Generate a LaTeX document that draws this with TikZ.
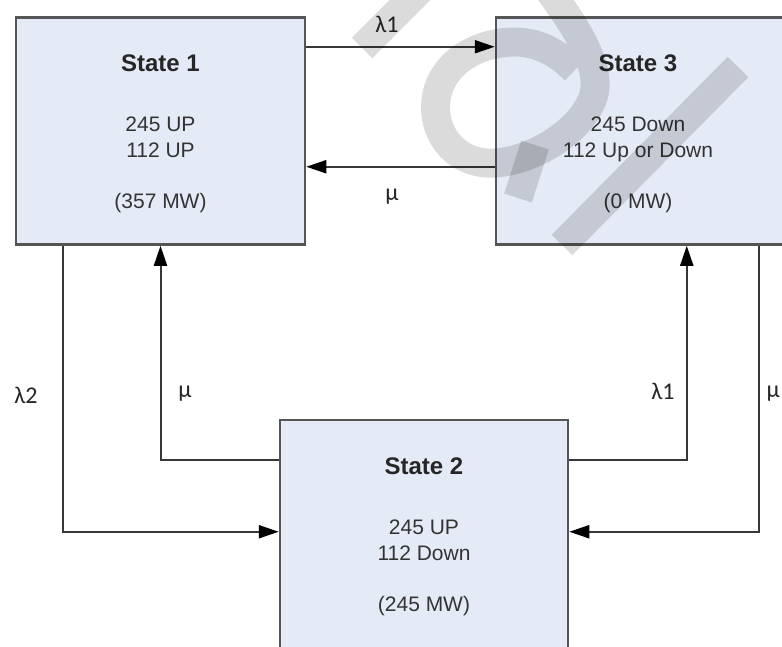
\documentclass[tikz,border=0pt]{standalone}
\usepackage{fontspec}
\setmainfont{Liberation Sans}
\newfontfamily\grk{Carlito}
\usetikzlibrary{arrows.meta,calc}
\definecolor{boxfill}{RGB}{229,235,246}
\definecolor{boxline}{RGB}{85,85,85}
\definecolor{conline}{RGB}{55,55,55}
\begin{document}
\begin{tikzpicture}[x=1pt,y=-1pt,
  statebox/.style={draw=boxline,line width=2.5pt,fill=boxfill,rectangle,inner sep=0pt},
  title/.style={anchor=base,font=\fontsize{24}{28}\selectfont\bfseries,text=black!85},
  body/.style={anchor=base,font=\fontsize{21}{26}\selectfont,text=black!80},
  rate/.style={anchor=base,font=\grk\fontsize{24}{28}\selectfont,text=black!85},
  conn/.style={draw=conline,line width=2pt,-{Triangle[length=20pt,width=13pt,color=black]}},
  wm/.style={draw=black,draw opacity=0.14,line width=29pt}
]
\path[use as bounding box] (0,0) rectangle (782,646);
\clip (0,0) rectangle (782,646);

% states
\node[statebox,minimum width=289pt,minimum height=227pt] (s1) at (160.5,131) {};
\node[statebox,minimum width=290pt,minimum height=227pt] (s3) at (641,131) {};
\node[statebox,minimum width=288pt,minimum height=230pt] (s2) at (424,535) {};

% state texts
\node[title] (s1a) at (160.5,71) {State 1};
\node[body]  (s1b) at (160.5,131) {245 UP};
\node[body]  (s1c) at (160.5,157) {112 UP};
\node[body]  (s1d) at (160.5,208) {(357 MW)};

\node[title] (s3a) at (638,71) {State 3};
\node[body]  (s3b) at (638,131) {245 Down};
\node[body]  (s3c) at (638,157) {112 Up or Down};
\node[body]  (s3d) at (638,208) {(0 MW)};

\node[title] (s2a) at (424,474) {State 2};
\node[body]  (s2b) at (424,534) {245 UP};
\node[body]  (s2c) at (424,560) {112 Down};
\node[body]  (s2d) at (424,611) {(245 MW)};

% connectors
\draw[conn] ($(s1.north east)+(0,30.5)$) -- ($(s3.north west)+(0,30.5)$);
\draw[conn] ($(s3.north west)+(0,150.5)$) -- ($(s1.north east)+(0,150.5)$);
\draw[conn] ($(s1.south west)+(48,0)$) |- ($(s2.north west)+(0,113)$);
\draw[conn] ($(s2.north west)+(0,41)$) -| (s1.south);
\draw[conn] ($(s2.north east)+(0,41)$) -| ($(s3.south west)+(192,0)$);
\draw[conn] ($(s3.south west)+(264,0)$) |- ($(s2.north east)+(0,113)$);

% rate labels
\node[rate] (l1) at (387,32) {λ1};
\node[rate] (m1) at (392,200) {μ};
\node[rate] (l2) at (26,403) {λ2};
\node[rate] (m2) at (185,397) {μ};
\node[rate] (l3) at (663,399) {λ1};
\node[rate,anchor=base east,inner sep=1pt] (m3) at (781,397) {μ};

% watermark
\draw[wm] (362,48) -- (450,-40);
\draw[wm] (738,67) -- (562,245);
\draw[wm] (545,-15) .. controls (575,25) and (605,70) .. (592,100)
  .. controls (578,135) and (525,165) .. (487,163)
  .. controls (452,161) and (432,130) .. (436,100)
  .. controls (440,65) and (475,42) .. (515,42)
  .. controls (540,42) and (560,55) .. (575,70);
\draw[wm] (535,145) -- (518,198);
\end{tikzpicture}
\end{document}
